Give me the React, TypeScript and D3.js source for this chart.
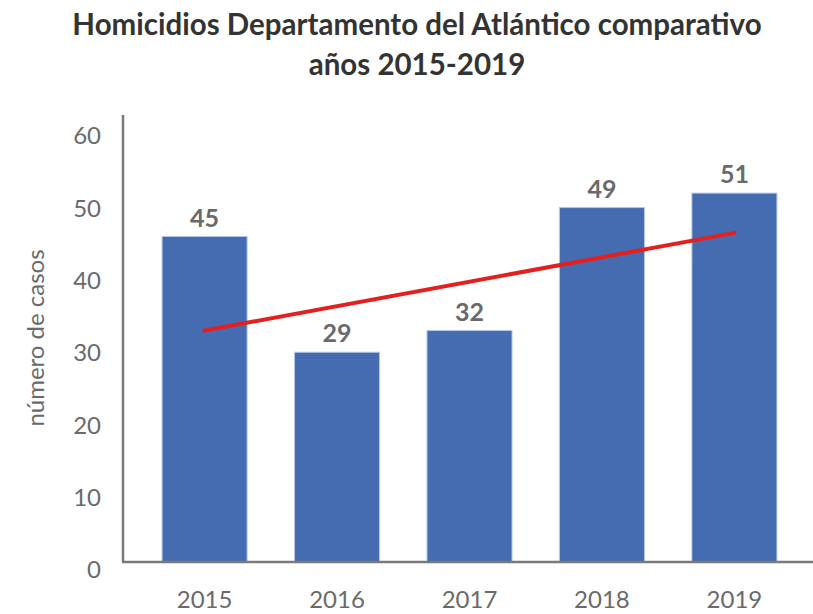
import React, { useEffect, useRef } from 'react';
import * as d3 from 'd3';

const years = ['2015', '2016', '2017', '2018', '2019'];
const homicides = [45, 29, 32, 49, 51];
// trend line (value at 2015 and at 2019)
const trendYears = ['2015', '2019'];
const trendValues = [32, 45.5];
const yTicks = [0, 10, 20, 30, 40, 50, 60];

const titleLines = [
  'Homicidios Departamento del Atlántico comparativo',
  'años 2015-2019',
];

export default function App() {
  const ref = useRef<SVGSVGElement | null>(null);

  useEffect(() => {
    drawChart();
  });

  function drawChart() {
    const width = 813;
    const height = 614;
    const font = 'Lato, "Open Sans", sans-serif';
    const grey = '#6a6a6a';

    const svg = d3.select(ref.current);
    svg.selectAll('*').remove();

    svg.append('rect')
      .attr('width', width)
      .attr('height', height)
      .attr('fill', 'white');

    // title
    svg.append('g')
      .selectAll('text')
      .data(titleLines)
      .enter()
      .append('text')
        .text((d) => d)
        .attr('x', 417)
        .attr('y', (d, i) => 35 + i * 40)
        .attr('text-anchor', 'middle')
        .style('font-family', font)
        .style('font-weight', 700)
        .style('font-size', '29.5px')
        .style('fill', '#333');

    const xScale = d3.scaleBand<string>()
      .domain(years)
      .range([123, 816])
      .paddingInner(0.358)
      .paddingOuter(0.295);

    const yScale = d3.scaleLinear()
      .domain([0, 60])
      .range([562, 128]);

    // y tick labels (no tick marks, text sits a bit below the value)
    svg.append('g')
      .selectAll('text')
      .data(yTicks)
      .enter()
      .append('text')
        .text((d) => d)
        .attr('x', 101)
        .attr('y', (d) => yScale(d) + 8)
        .attr('dy', '0.35em')
        .attr('text-anchor', 'end')
        .style('font-family', font)
        .style('font-size', '24px')
        .style('fill', grey);

    // y axis title
    svg.append('text')
      .text('número de casos')
      .attr('transform', 'translate(36, 338) rotate(-90)')
      .attr('text-anchor', 'middle')
      .attr('dy', '0.35em')
      .style('font-family', font)
      .style('font-size', '24px')
      .style('fill', grey);

    // bars
    svg.append('g')
      .selectAll('.bar')
      .data(homicides)
      .enter()
      .append('rect')
        .attr('class', 'bar')
        .attr('x', (d, i) => xScale(years[i]) as number)
        .attr('y', (d) => yScale(d))
        .attr('width', xScale.bandwidth())
        .attr('height', (d) => yScale(0) - yScale(d))
        .attr('fill', '#456cb1')
        .attr('stroke', '#b4c7e8')
        .attr('stroke-width', 1);

    // value labels
    svg.append('g')
      .selectAll('text')
      .data(homicides)
      .enter()
      .append('text')
        .text((d) => d)
        .attr('x', (d, i) => (xScale(years[i]) as number) + xScale.bandwidth() / 2)
        .attr('y', (d) => yScale(d) - 10)
        .attr('text-anchor', 'middle')
        .style('font-family', font)
        .style('font-weight', 700)
        .style('font-size', '25px')
        .style('fill', grey);

    // x labels
    svg.append('g')
      .selectAll('text')
      .data(years)
      .enter()
      .append('text')
        .text((d) => d)
        .attr('x', (d) => (xScale(d) as number) + xScale.bandwidth() / 2)
        .attr('y', 600)
        .attr('dy', '0.35em')
        .attr('text-anchor', 'middle')
        .style('font-family', font)
        .style('font-size', '24px')
        .style('fill', grey);

    // axis lines
    svg.append('line')
      .attr('x1', 123).attr('x2', 123)
      .attr('y1', 115).attr('y2', yScale(0))
      .attr('stroke', '#7a7a7a')
      .attr('stroke-width', 2.5);
    svg.append('line')
      .attr('x1', 122).attr('x2', 813)
      .attr('y1', yScale(0)).attr('y2', yScale(0))
      .attr('stroke', '#7a7a7a')
      .attr('stroke-width', 2.5);

    // trend line
    const trend = trendYears.map((y, i) => ({ x: y, v: trendValues[i] }));
    svg.append('path')
      .datum(trend)
      .attr('d', d3.line<{ x: string; v: number }>()
        .x((d) => (xScale(d.x) as number) + xScale.bandwidth() / 2)
        .y((d) => yScale(d.v))
      )
      .attr('stroke', '#e3201f')
      .attr('stroke-width', 4)
      .attr('stroke-linecap', 'round')
      .attr('fill', 'none');
  }

  return (
    <svg
      ref={ref}
      width={813}
      height={614}
      style={{ position: 'absolute', left: 0, top: 0, display: 'block' }}
    />
  );
}
